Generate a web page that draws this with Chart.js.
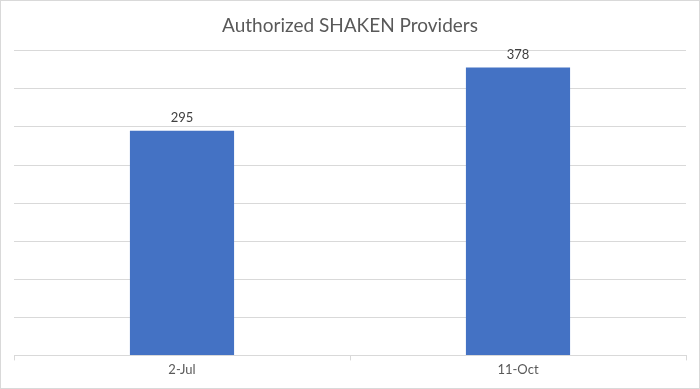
<!DOCTYPE html>
<html>
<head>
<meta charset="utf-8">
<script src="https://cdn.jsdelivr.net/npm/chart.js@4/dist/chart.umd.min.js"></script>
<style>
  html, body { margin: 0; padding: 0; background: #fff; }
  #wrap { width: 700px; height: 389px; position: relative; }
</style>
</head>
<body>
<div id="wrap"><canvas id="chart"></canvas></div>
<script>
"use strict";

const TITLE = "Authorized SHAKEN Providers";
const CATEGORIES = ["2-Jul", "11-Oct"];
const PROVIDERS = [295, 378];
const Y_MAX = 400;
const Y_STEP = 50;

const FONT = "Lato, 'Open Sans', sans-serif";

// labels above bars, like Excel's data labels
const barLabels = {
  id: "barLabels",
  afterDatasetsDraw(chart) {
    const ctx = chart.ctx;
    const meta = chart.getDatasetMeta(0);
    ctx.save();
    ctx.font = "13px " + FONT;
    ctx.fillStyle = "#404040";
    ctx.textAlign = "center";
    ctx.textBaseline = "bottom";
    meta.data.forEach((bar, i) => {
      ctx.fillText(String(PROVIDERS[i]), bar.x, bar.y - 6);
    });
    ctx.restore();
  },
};

// thin grey frame round the whole picture
const frame = {
  id: "frame",
  afterDraw(chart) {
    const ctx = chart.ctx;
    ctx.save();
    ctx.strokeStyle = "#d9d9d9";
    ctx.lineWidth = 1;
    ctx.strokeRect(0.5, 0.5, chart.width - 1, chart.height - 1);
    ctx.restore();
  },
};

new Chart(document.getElementById("chart"), {
  type: "bar",
  data: {
    labels: CATEGORIES,
    datasets: [{
      label: "Providers",
      data: PROVIDERS,
      backgroundColor: "#4472c4",
      categoryPercentage: 0.31,
      barPercentage: 1,
    }],
  },
  options: {
    responsive: true,
    maintainAspectRatio: false,
    animation: false,
    layout: { padding: { left: 14, right: 14, top: 6, bottom: 9 } },
    scales: {
      x: {
        grid: { drawOnChartArea: false, drawTicks: true, tickLength: 5, color: "#d9d9d9" },
        border: { color: "#d9d9d9" },
        ticks: { color: "#595959", font: { family: FONT, size: 13 }, padding: 2 },
      },
      y: {
        min: 0,
        max: Y_MAX,
        ticks: { display: false, stepSize: Y_STEP },
        grid: { color: "#d9d9d9", drawTicks: false },
        border: { display: false },
      },
    },
    plugins: {
      legend: { display: false },
      tooltip: { enabled: false },
      title: {
        display: true,
        text: TITLE,
        color: "#595959",
        font: { family: FONT, size: 19, weight: "normal" },
        padding: { top: 8, bottom: 14 },
      },
    },
  },
  plugins: [barLabels, frame],
});
</script>
</body>
</html>
